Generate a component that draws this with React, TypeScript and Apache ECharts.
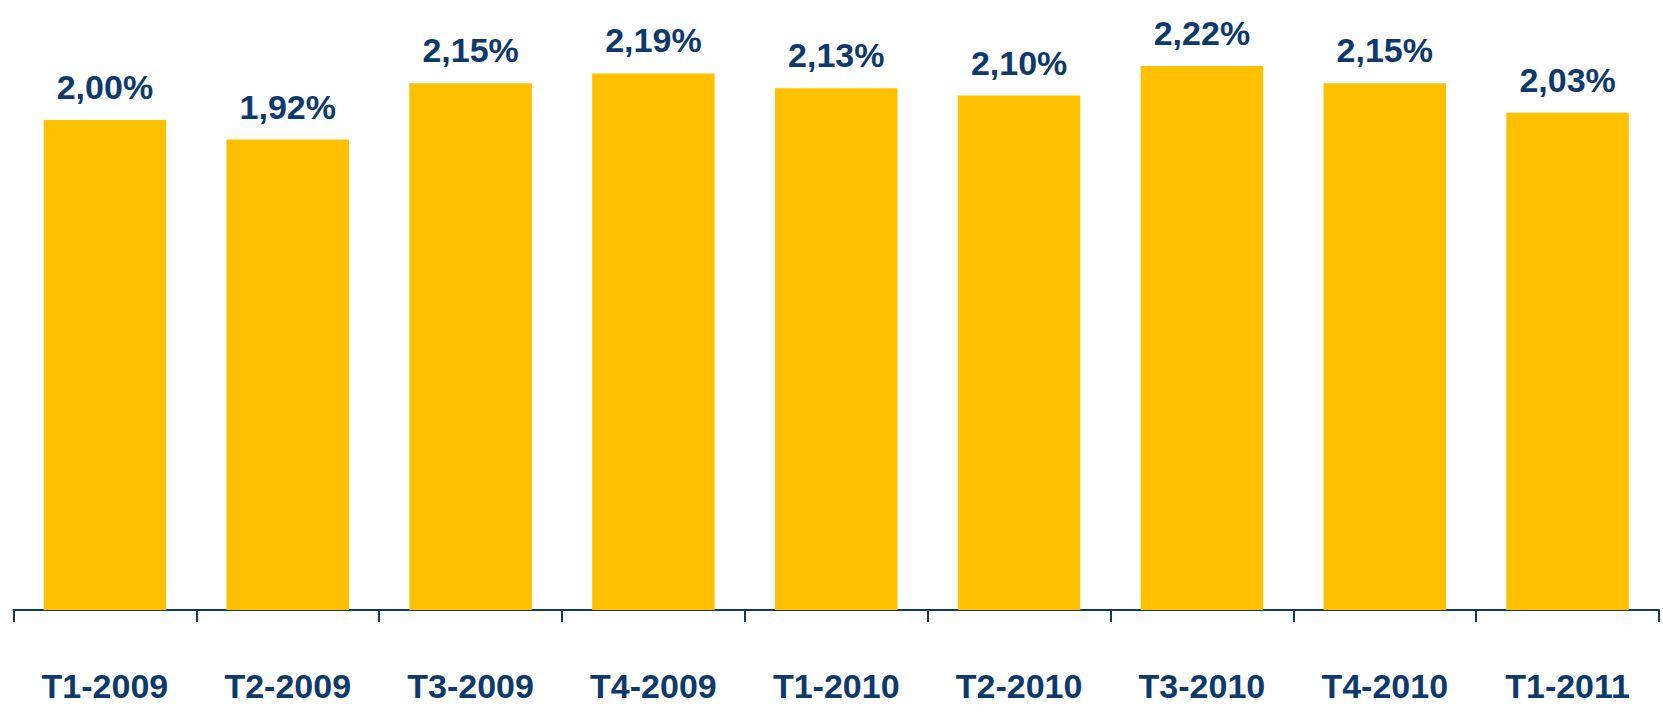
import React, { useEffect, useRef } from "react";
import * as echarts from "echarts";

const categories = ["T1-2009", "T2-2009", "T3-2009", "T4-2009", "T1-2010", "T2-2010", "T3-2010", "T4-2010", "T1-2011"];
const values = [2.0, 1.92, 2.15, 2.19, 2.13, 2.1, 2.22, 2.15, 2.03];

const NAVY = "#0D396B";
const GOLD = "#FFC000";

export default function App() {
  const ref = useRef<HTMLDivElement>(null);
  useEffect(() => {
    document.body.style.margin = "0";
    const chart = echarts.init(ref.current!, null, { renderer: "svg" });
    chart.setOption({
      animation: false,
      grid: { left: 13.5, right: 4, top: 22, bottom: 103, containLabel: false },
      xAxis: {
        type: "category",
        data: categories,
        axisLine: { lineStyle: { color: NAVY, width: 2 } },
        axisTick: { show: true, length: 12, lineStyle: { color: NAVY, width: 2 } },
        axisLabel: {
          color: NAVY,
          fontFamily: "Liberation Sans, Arial, sans-serif",
          fontWeight: "bold",
          fontSize: 34,
          margin: 59,
        },
      },
      yAxis: {
        type: "value",
        min: 0,
        max: 2.4,
        show: false,
        splitLine: { show: false },
      },
      series: [
        {
          type: "bar",
          data: values,
          barWidth: "67%",
          itemStyle: { color: GOLD },
          label: {
            show: true,
            position: "top",
            distance: 16,
            color: NAVY,
            fontFamily: "Liberation Sans, Arial, sans-serif",
            fontWeight: "bold",
            fontSize: 34,
            formatter: (p: any) => p.value.toFixed(2).replace(".", ",") + "%",
          },
        },
      ],
    });
    return () => chart.dispose();
  }, []);
  return <div ref={ref} style={{ position: "absolute", left: 0, top: 0, width: 1663, height: 713 }} />;
}
